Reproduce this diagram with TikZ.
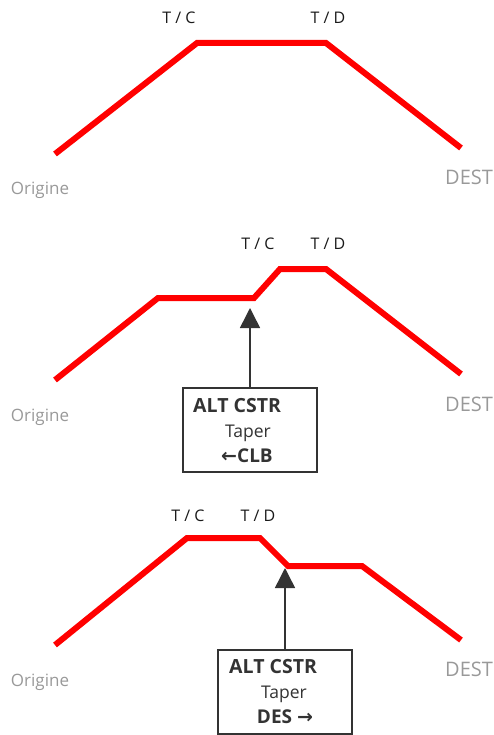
\documentclass[tikz,border=0pt]{standalone}
\usepackage{fontspec}
\setmainfont{Open Sans}
\newfontfamily\arrowfont{DejaVu Sans}
\usetikzlibrary{arrows.meta}
\definecolor{pathred}{HTML}{FF0000}
\definecolor{dark}{HTML}{333333}
\definecolor{lightgray}{HTML}{999999}
\begin{document}
\begin{tikzpicture}[x=1pt,y=-1pt,
  profile/.style={draw=pathred,line width=6pt,line join=miter},
  toplabel/.style={anchor=base,inner sep=0pt,text=black!90,font=\fontsize{16}{19}\selectfont},
  origlabel/.style={anchor=base,inner sep=0pt,text=lightgray,font=\fontsize{17}{20}\selectfont},
  destlabel/.style={anchor=base west,inner sep=0pt,text=lightgray,font=\fontsize{20}{24}\selectfont},
  cstrbox/.style={draw=dark,line width=1.5pt,minimum width=134pt,minimum height=84pt,inner sep=0pt},
  boxtitle/.style={anchor=base west,inner sep=0pt,text=dark,font=\bfseries\fontsize{19.5}{23}\selectfont},
  boxtext/.style={anchor=base,inner sep=0pt,text=dark,font=\fontsize{17.5}{21}\selectfont},
  boxmode/.style={anchor=base,inner sep=0pt,text=dark,font=\bfseries\fontsize{19}{23}\selectfont},
  pointer/.style={draw=dark,line width=1.5pt,-{Triangle[length=20pt,width=20pt]}}
]
\useasboundingbox (0,0) rectangle (493,735);

% Panel 1
\draw[profile] (55,154) -- (197,43) -- (326,43) -- (461,148);
\node[toplabel] (tc1) at (179,24) {T / C};
\node[toplabel] (td1) at (328,24) {T / D};
\node[origlabel] (o1) at (40,195) {Origine};
\node[destlabel] (d1) at (445,185) {DEST};

% Panel 2
\draw[profile] (55,380) -- (158,298) -- (254,298) -- (280,269) -- (326,269) -- (461,374);
\node[toplabel] (tc2) at (258,249) {T / C};
\node[toplabel] (td2) at (328,249) {T / D};
\node[origlabel] (o2) at (40,421) {Origine};
\node[destlabel] (d2) at (445,411) {DEST};
\node[cstrbox] (b2) at (250,430) {};
\node[boxtitle] (b2t) at (193,412) {ALT CSTR};
\node[boxtext] (b2m) at (248,437) {Taper};
\node[boxmode] (b2b) at (247,462) {{\arrowfont\bfseries ←}CLB};
\coordinate (p2) at (250,308);
\draw[pointer] (b2.north) -- (p2);

% Panel 3
\draw[profile] (55,645) -- (187,538) -- (260,538) -- (288,566) -- (362,566) -- (461,640);
\node[toplabel] (tc3) at (188,521) {T / C};
\node[toplabel] (td3) at (258,521) {T / D};
\node[origlabel] (o3) at (40,686) {Origine};
\node[destlabel] (d3) at (445,676) {DEST};
\node[cstrbox] (b3) at (285,692) {};
\node[boxtitle] (b3t) at (229,673) {ALT CSTR};
\node[boxtext] (b3m) at (284,698) {Taper};
\node[boxmode] (b3b) at (285,723) {DES {\arrowfont\bfseries →}};
\coordinate (p3) at (285,568);
\draw[pointer] (b3.north) -- (p3);
\end{tikzpicture}
\end{document}
